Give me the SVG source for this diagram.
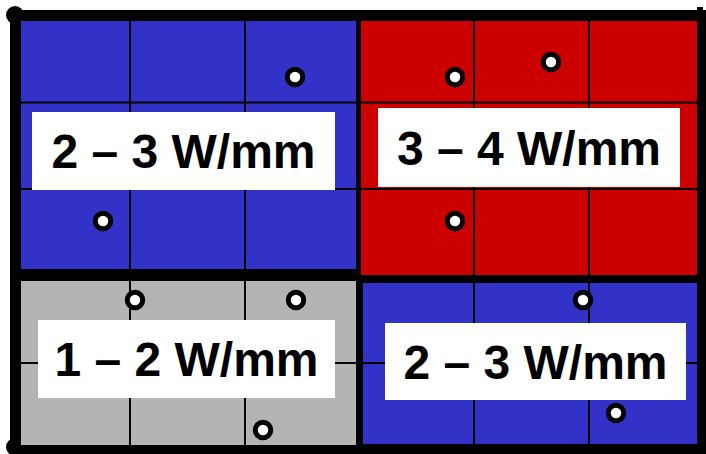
<svg xmlns="http://www.w3.org/2000/svg" width="706" height="454" viewBox="0 0 706 454">
  <style>
    .blue { fill: #3232c8; }
    .red { fill: #cc0000; }
    .gray { fill: #b4b4b4; }
    .grid { stroke: #000; stroke-width: 2; fill: none; }
    .dot { fill: #fff; stroke: #000; stroke-width: 5; }
    .box { fill: #fff; }
    .lbl { font-family: "Liberation Sans", Arial, sans-serif; font-weight: bold; font-size: 48px; fill: #000; text-anchor: middle; }
  </style>
  <rect width="706" height="454" fill="#fff"/>
  <g id="frame">
    <rect x="10" y="10" width="696" height="444" fill="#000"/>
    <circle cx="15" cy="15" r="9" fill="#000"/>
    <circle cx="15" cy="447" r="9" fill="#000"/>
    <rect x="697" y="7" width="6" height="6" fill="#000"/>
  </g>
  <g id="q-top-left">
    <rect class="blue" x="21" y="21" width="335" height="248"/>
    <path class="grid" d="M130 21V269M245 21V269M21 102.5H356M21 189H356"/>
    <rect class="box" x="32" y="112" width="303" height="78"/>
    <text class="lbl" x="183.5" y="168">2 – 3 W/mm</text>
    <circle class="dot" cx="295" cy="77" r="7.75"/>
    <circle class="dot" cx="103" cy="221" r="7.75"/>
  </g>
  <g id="q-top-right">
    <rect class="red" x="361" y="21" width="336" height="254"/>
    <path class="grid" d="M474 21V275M589 21V275M361 102.5H697M361 189H697"/>
    <rect class="box" x="378" y="108" width="302" height="79"/>
    <text class="lbl" x="529" y="165">3 – 4 W/mm</text>
    <circle class="dot" cx="455" cy="77" r="7.75"/>
    <circle class="dot" cx="551" cy="62" r="7.75"/>
    <circle class="dot" cx="455" cy="221" r="7.75"/>
  </g>
  <g id="q-bottom-left">
    <rect class="gray" x="21" y="281" width="335" height="164"/>
    <path class="grid" d="M130 281V445M245 281V445M21 363H356"/>
    <rect class="box" x="38" y="320" width="297" height="78"/>
    <text class="lbl" x="186.5" y="376">1 – 2 W/mm</text>
    <circle class="dot" cx="135" cy="300" r="7.75"/>
    <circle class="dot" cx="296" cy="300" r="7.75"/>
    <circle class="dot" cx="263" cy="430" r="7.75"/>
  </g>
  <g id="q-bottom-right">
    <rect class="blue" x="363" y="283" width="334" height="161"/>
    <path class="grid" d="M474 283V444M589 283V444M363 363H697"/>
    <rect class="box" x="385" y="323" width="301" height="77"/>
    <text class="lbl" x="535.5" y="379">2 – 3 W/mm</text>
    <circle class="dot" cx="583" cy="300" r="7.75"/>
    <circle class="dot" cx="616" cy="413" r="7.75"/>
  </g>
</svg>
